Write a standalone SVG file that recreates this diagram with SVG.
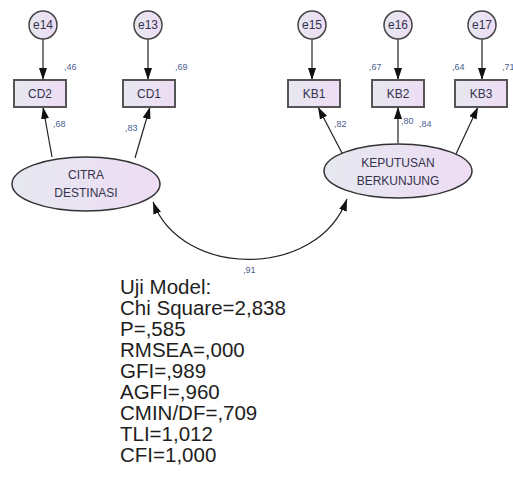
<svg xmlns="http://www.w3.org/2000/svg" width="513" height="486" viewBox="0 0 513 486">
<defs>
<linearGradient id="g" x1="0" y1="0" x2="1" y2="0">
<stop offset="0" stop-color="#e6e8f0"/>
<stop offset="1" stop-color="#eedcf4"/>
</linearGradient>
<marker id="ah" viewBox="0 0 12 8" refX="12" refY="4" markerWidth="12" markerHeight="8" markerUnits="userSpaceOnUse" orient="auto-start-reverse">
<path d="M0,0 L12,4 L0,8 Z" fill="#111"/>
</marker>
</defs>
<style>
.c{fill:url(#g);stroke:#444;stroke-width:1.5}
.b{fill:url(#g);stroke:#555;stroke-width:2}
.e{fill:url(#g);stroke:#333;stroke-width:1.5}
.t{font-family:"Liberation Sans",Arial,sans-serif;font-size:12px;fill:#33334d;text-anchor:middle}
.k{font-family:"Liberation Sans",Arial,sans-serif;font-size:9px;fill:#4a6090}
.s{font-family:"Liberation Sans",Arial,sans-serif;font-size:20.5px;fill:#1e1e1e}
.l{fill:none;stroke:#222;stroke-width:1.2;marker-end:url(#ah)}
</style>
<rect width="513" height="486" fill="#fff"/>
<g id="connectors">
<line class="l" x1="43" y1="39" x2="43" y2="80"/>
<line class="l" x1="148" y1="39" x2="148" y2="80"/>
<line class="l" x1="312" y1="39" x2="312" y2="80"/>
<line class="l" x1="398" y1="39" x2="398" y2="80"/>
<line class="l" x1="482" y1="39" x2="482" y2="80"/>
<line class="l" x1="52" y1="157" x2="43" y2="107"/>
<line class="l" x1="135" y1="158" x2="150" y2="107"/>
<line class="l" x1="343" y1="155" x2="318" y2="107"/>
<line class="l" x1="398" y1="143" x2="398" y2="107"/>
<line class="l" x1="456" y1="154" x2="478" y2="107"/>
<path class="l" d="M153,202 C182,279 318,279 347,199" marker-start="url(#ah)"/>
</g>
<g id="e14"><circle class="c" cx="43" cy="25" r="14"/><text class="t" x="43" y="29">e14</text></g>
<g id="e13"><circle class="c" cx="148" cy="25" r="14"/><text class="t" x="148" y="29">e13</text></g>
<g id="e15"><circle class="c" cx="312" cy="25" r="14"/><text class="t" x="312" y="29">e15</text></g>
<g id="e16"><circle class="c" cx="398" cy="25" r="14"/><text class="t" x="398" y="29">e16</text></g>
<g id="e17"><circle class="c" cx="482" cy="25" r="14"/><text class="t" x="482" y="29">e17</text></g>
<g id="CD2"><rect class="b" x="14" y="80" width="52" height="27"/><text class="t" x="40" y="98">CD2</text></g>
<g id="CD1"><rect class="b" x="123" y="80" width="52" height="27"/><text class="t" x="149" y="98">CD1</text></g>
<g id="KB1"><rect class="b" x="288" y="80" width="52" height="27"/><text class="t" x="314" y="98">KB1</text></g>
<g id="KB2"><rect class="b" x="372" y="80" width="52" height="27"/><text class="t" x="398" y="98">KB2</text></g>
<g id="KB3"><rect class="b" x="455" y="80" width="52" height="27"/><text class="t" x="481" y="98">KB3</text></g>
<g id="CITRA"><ellipse class="e" cx="86" cy="184" rx="74" ry="27"/><text class="t" x="86" y="179">CITRA</text><text class="t" x="86" y="197">DESTINASI</text></g>
<g id="KEPUTUSAN"><ellipse class="e" cx="398" cy="171" rx="74" ry="27"/><text class="t" x="398" y="167">KEPUTUSAN</text><text class="t" x="398" y="185">BERKUNJUNG</text></g>
<g id="labels">
<text class="k" x="64" y="70">,46</text>
<text class="k" x="175" y="70">,69</text>
<text class="k" x="369" y="70">,67</text>
<text class="k" x="452" y="70">,64</text>
<text class="k" x="502" y="70">,71</text>
<text class="k" x="53" y="127">,68</text>
<text class="k" x="125" y="131">,83</text>
<text class="k" x="334" y="127">,82</text>
<text class="k" x="401" y="124">,80</text>
<text class="k" x="419" y="127">,84</text>
<text class="k" x="243" y="273">,91</text>
</g>
<g id="stats">
<text class="s" x="120" y="294">Uji Model:</text>
<text class="s" x="120" y="315">Chi Square=2,838</text>
<text class="s" x="120" y="336">P=,585</text>
<text class="s" x="120" y="357">RMSEA=,000</text>
<text class="s" x="120" y="378">GFI=,989</text>
<text class="s" x="120" y="399">AGFI=,960</text>
<text class="s" x="120" y="420">CMIN/DF=,709</text>
<text class="s" x="120" y="441">TLI=1,012</text>
<text class="s" x="120" y="462">CFI=1,000</text>
</g>
</svg>
